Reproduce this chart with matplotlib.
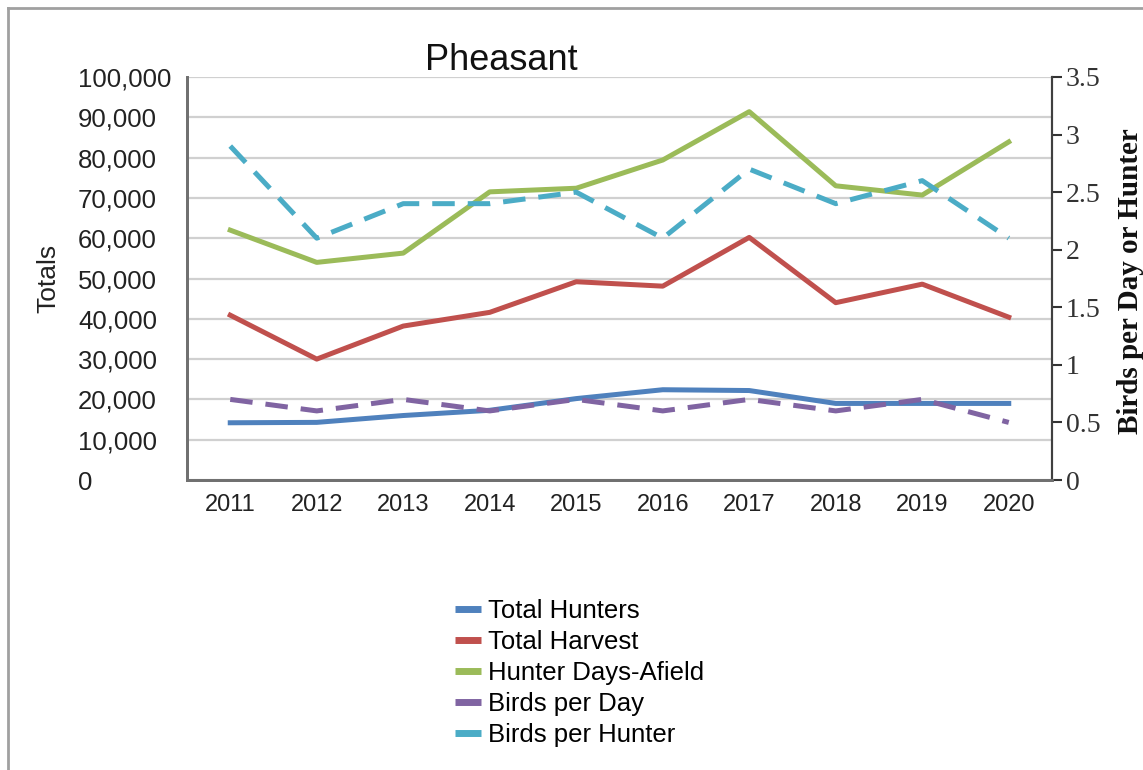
import matplotlib
matplotlib.use('Agg')
import matplotlib.pyplot as plt
from matplotlib.lines import Line2D
from matplotlib.ticker import FuncFormatter

years = ['2011', '2012', '2013', '2014', '2015', '2016', '2017', '2018', '2019', '2020']
total_hunters = [14200, 14300, 16000, 17300, 20200, 22400, 22200, 19000, 19000, 19000]
total_harvest = [40900, 30000, 38200, 41600, 49200, 48100, 60200, 44000, 48600, 40400]
days_afield = [62000, 54000, 56300, 71500, 72400, 79400, 91400, 73000, 70700, 83900]
birds_per_day = [0.7, 0.6, 0.7, 0.6, 0.7, 0.6, 0.7, 0.6, 0.7, 0.5]
birds_per_hunter = [2.9, 2.1, 2.4, 2.4, 2.5, 2.1, 2.7, 2.4, 2.6, 2.1]

blue = '#4F81BD'
red = '#C0504D'
green = '#9BBB59'
purple = '#8064A2'
cyan = '#4BACC6'

plt.rcParams['font.family'] = ['Liberation Sans', 'DejaVu Sans']

fig = plt.figure(figsize=(11.43, 7.7), dpi=100)
ax = fig.add_axes([187/1143, 1 - 480/770, (1052 - 187)/1143, (480 - 77)/770])
ax2 = ax.twinx()

x = list(range(len(years)))
lw = 3.6
ax.plot(x, total_hunters, color=blue, lw=lw, solid_joinstyle='round')
ax.plot(x, total_harvest, color=red, lw=lw, solid_joinstyle='round')
ax.plot(x, days_afield, color=green, lw=lw, solid_joinstyle='round')
ax2.plot(x, birds_per_day, color=purple, lw=lw, dashes=(4.5, 2.6))
ax2.plot(x, birds_per_hunter, color=cyan, lw=lw, dashes=(4.5, 2.6))

ax.set_xlim(-0.5, 9.5)
ax.set_ylim(0, 100000)
ax.set_yticks(range(0, 100001, 10000))
ax.yaxis.set_major_formatter(FuncFormatter(lambda v, p: f'{int(v):,}'))
ax.grid(axis='y', color='#d0d0d0', lw=1.6)
ax.set_axisbelow(True)
ax.set_xticks(x)
ax.set_xticklabels(years)
ax.tick_params(axis='x', length=0, pad=10, labelsize=17, colors='#222222')
# left tick labels are left-aligned in the reference, starting near x=78px
ax.tick_params(axis='y', length=0, pad=78.5, labelsize=18.5, colors='#333333')
for lab in ax.get_yticklabels():
    lab.set_horizontalalignment('left')
for lab in ax.get_xticklabels() + ax.get_yticklabels():
    lab.set_color('#222222')

ax2.set_ylim(0, 3.5)
ax2.set_yticks([0, 0.5, 1, 1.5, 2, 2.5, 3, 3.5])
ax2.set_yticklabels(['0', '0.5', '1', '1.5', '2', '2.5', '3', '3.5'],
                    family='Liberation Serif')
ax2.tick_params(axis='y', length=7, width=1.5, color='#333333', pad=3,
                labelsize=20, labelcolor='#333333')

for a in (ax, ax2):
    a.spines['top'].set_visible(False)
    a.spines['left'].set_color('#707070')
    a.spines['left'].set_linewidth(2)
    a.spines['bottom'].set_color('#707070')
    a.spines['bottom'].set_linewidth(2)
    a.spines['right'].set_color('#404040')
    a.spines['right'].set_linewidth(1.5)

ax.set_ylabel('Totals', fontsize=19, color='#222222')
ax.yaxis.set_label_coords((60 - 187) / 865, 0.5)
fig.text(1130/1143, 1 - 281/770, 'Birds per Day or Hunter', fontsize=21,
         fontweight='bold', family='Liberation Serif', color='#111111',
         rotation=90, ha='center', va='center')

fig.text(501/1143, 1 - 70/770, 'Pheasant', fontsize=26, ha='center', va='baseline',
         color='#111111')

handles = [Line2D([], [], color=c, lw=5, solid_capstyle='butt')
           for c in (blue, red, green, purple, cyan)]
labels = ['Total Hunters', 'Total Harvest', 'Hunter Days-Afield', 'Birds per Day', 'Birds per Hunter']
fig.legend(handles, labels, loc='upper left', bbox_to_anchor=(442/1143, 1 - 586/770),
           frameon=False, fontsize=18.5, handlelength=1.0, handletextpad=0.28,
           labelspacing=0.27, borderpad=0)

# outer frame of the chart
fig.add_artist(Line2D([8/1143, 8/1143], [0, 1 - 8/770], transform=fig.transFigure,
                      color='#a0a0a0', lw=2))
fig.add_artist(Line2D([8/1143, 1], [1 - 8/770, 1 - 8/770], transform=fig.transFigure,
                      color='#a0a0a0', lw=2))

fig.savefig('out.png', dpi=100)
